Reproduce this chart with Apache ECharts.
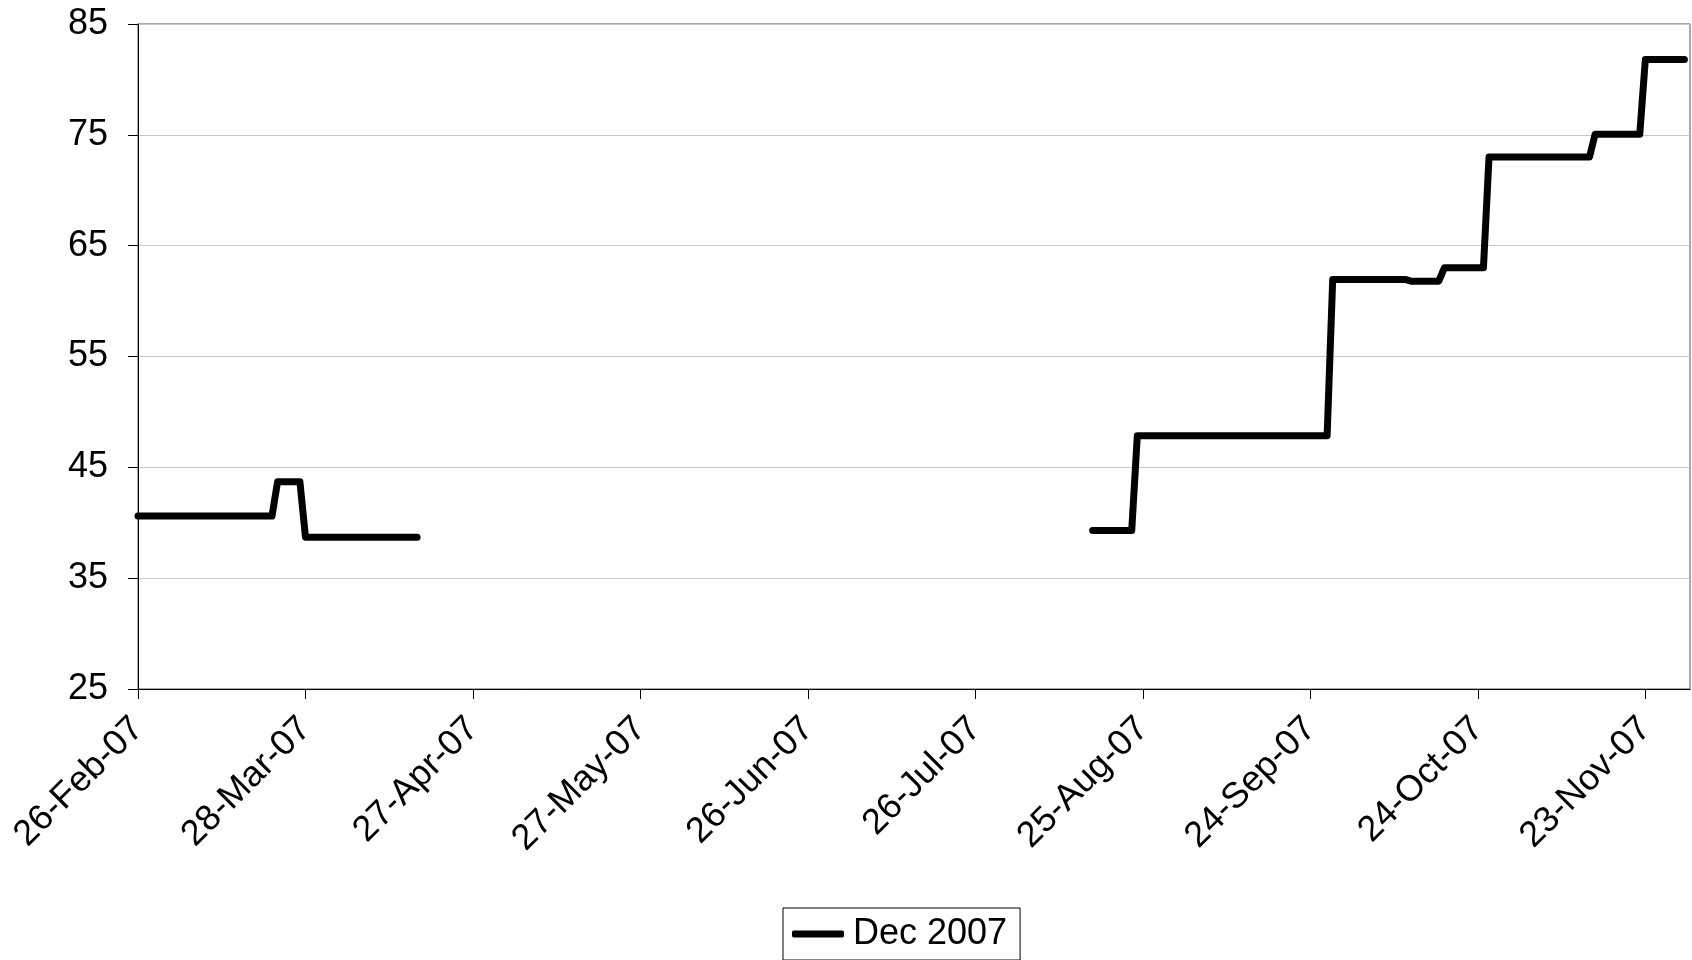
<!DOCTYPE html>
<html>
<head>
<meta charset="utf-8">
<script src="https://cdn.jsdelivr.net/npm/echarts@6/dist/echarts.min.js"></script>
<style>
html,body{margin:0;padding:0;background:#fff;}
#chart{width:1692px;height:960px;}
</style>
</head>
<body>
<div id="chart"></div>
<script>
// ---- data ----
var seriesName = "Dec 2007";
var startDate = "2007-02-26";
var endDate = "2007-12-01";
var seg1Dates  = ["2007-02-26","2007-03-22","2007-03-23","2007-03-27","2007-03-28","2007-04-17"];
var seg1Values = [40.6, 40.6, 43.7, 43.7, 38.7, 38.7];
var seg2Dates  = ["2007-08-16","2007-08-23","2007-08-24","2007-09-27","2007-09-28","2007-10-11","2007-10-12","2007-10-17","2007-10-18","2007-10-25","2007-10-26","2007-11-13","2007-11-14","2007-11-22","2007-11-23","2007-11-30"];
var seg2Values = [39.3, 39.3, 47.85, 47.85, 61.95, 61.95, 61.8, 61.8, 63.0, 63.0, 73.0, 73.0, 75.05, 75.05, 81.8, 81.8];
var yTicks = [25, 35, 45, 55, 65, 75, 85];
var xTickDays = [0, 30, 60, 90, 120, 150, 180, 210, 240, 270];
var monthNames = ["Jan","Feb","Mar","Apr","May","Jun","Jul","Aug","Sep","Oct","Nov","Dec"];

function toUTC(s){var p=s.split("-");return Date.UTC(+p[0],+p[1]-1,+p[2]);}
var t0 = toUTC(startDate);
function dayOf(s){return Math.round((toUTC(s)-t0)/86400000);}
function fmtDay(d){
  var dt = new Date(t0 + d*86400000);
  var yy = String(dt.getUTCFullYear()).slice(2);
  return dt.getUTCDate()+"-"+monthNames[dt.getUTCMonth()]+"-"+yy;
}
var data = [];
seg1Dates.forEach(function(d,i){data.push([dayOf(d), seg1Values[i]]);});
data.push("-");
seg2Dates.forEach(function(d,i){data.push([dayOf(d), seg2Values[i]]);});

var font = "'Liberation Sans', Arial, sans-serif";
var chart = echarts.init(document.getElementById("chart"));
chart.setOption({
  animation:false,
  backgroundColor:"#ffffff",
  grid:{left:138, right:2, top:24, bottom:271, show:true, borderColor:"#555", borderWidth:1},
  legend:{
    data:[{name:seriesName, icon:"roundRect"}],
    left:783, top:908,
    itemWidth:52, itemHeight:7,
    borderColor:"#000", borderWidth:1,
    padding:[8,13,8,9],
    textStyle:{fontFamily:font, fontSize:36, color:"#000", padding:[0,0,0,4]}
  },
  xAxis:{
    type:"value", min:0, max:dayOf(endDate),
    axisLine:{show:true, onZero:false, lineStyle:{color:"#000", width:1}},
    axisTick:{show:true, length:10, inside:false, customValues:xTickDays, lineStyle:{color:"#000"}},
    axisLabel:{customValues:xTickDays, rotate:45, margin:34, fontFamily:font, fontSize:36, color:"#000",
      formatter:function(v){return fmtDay(v);}},
    splitLine:{show:false}
  },
  yAxis:{
    type:"value", min:25, max:85, interval:10,
    axisLine:{show:true, lineStyle:{color:"#000", width:1}},
    axisTick:{show:true, length:10, lineStyle:{color:"#000"}},
    axisLabel:{margin:30, fontFamily:font, fontSize:36, color:"#000"},
    splitLine:{show:true, lineStyle:{color:"#c8c8c8", width:1}}
  },
  series:[{
    name:seriesName, type:"line", data:data, showSymbol:false, symbol:"none",
    connectNulls:false,
    lineStyle:{color:"#000", width:7, cap:"round", join:"round"},
    itemStyle:{color:"#000"}
  }]
});
</script>
</body>
</html>
